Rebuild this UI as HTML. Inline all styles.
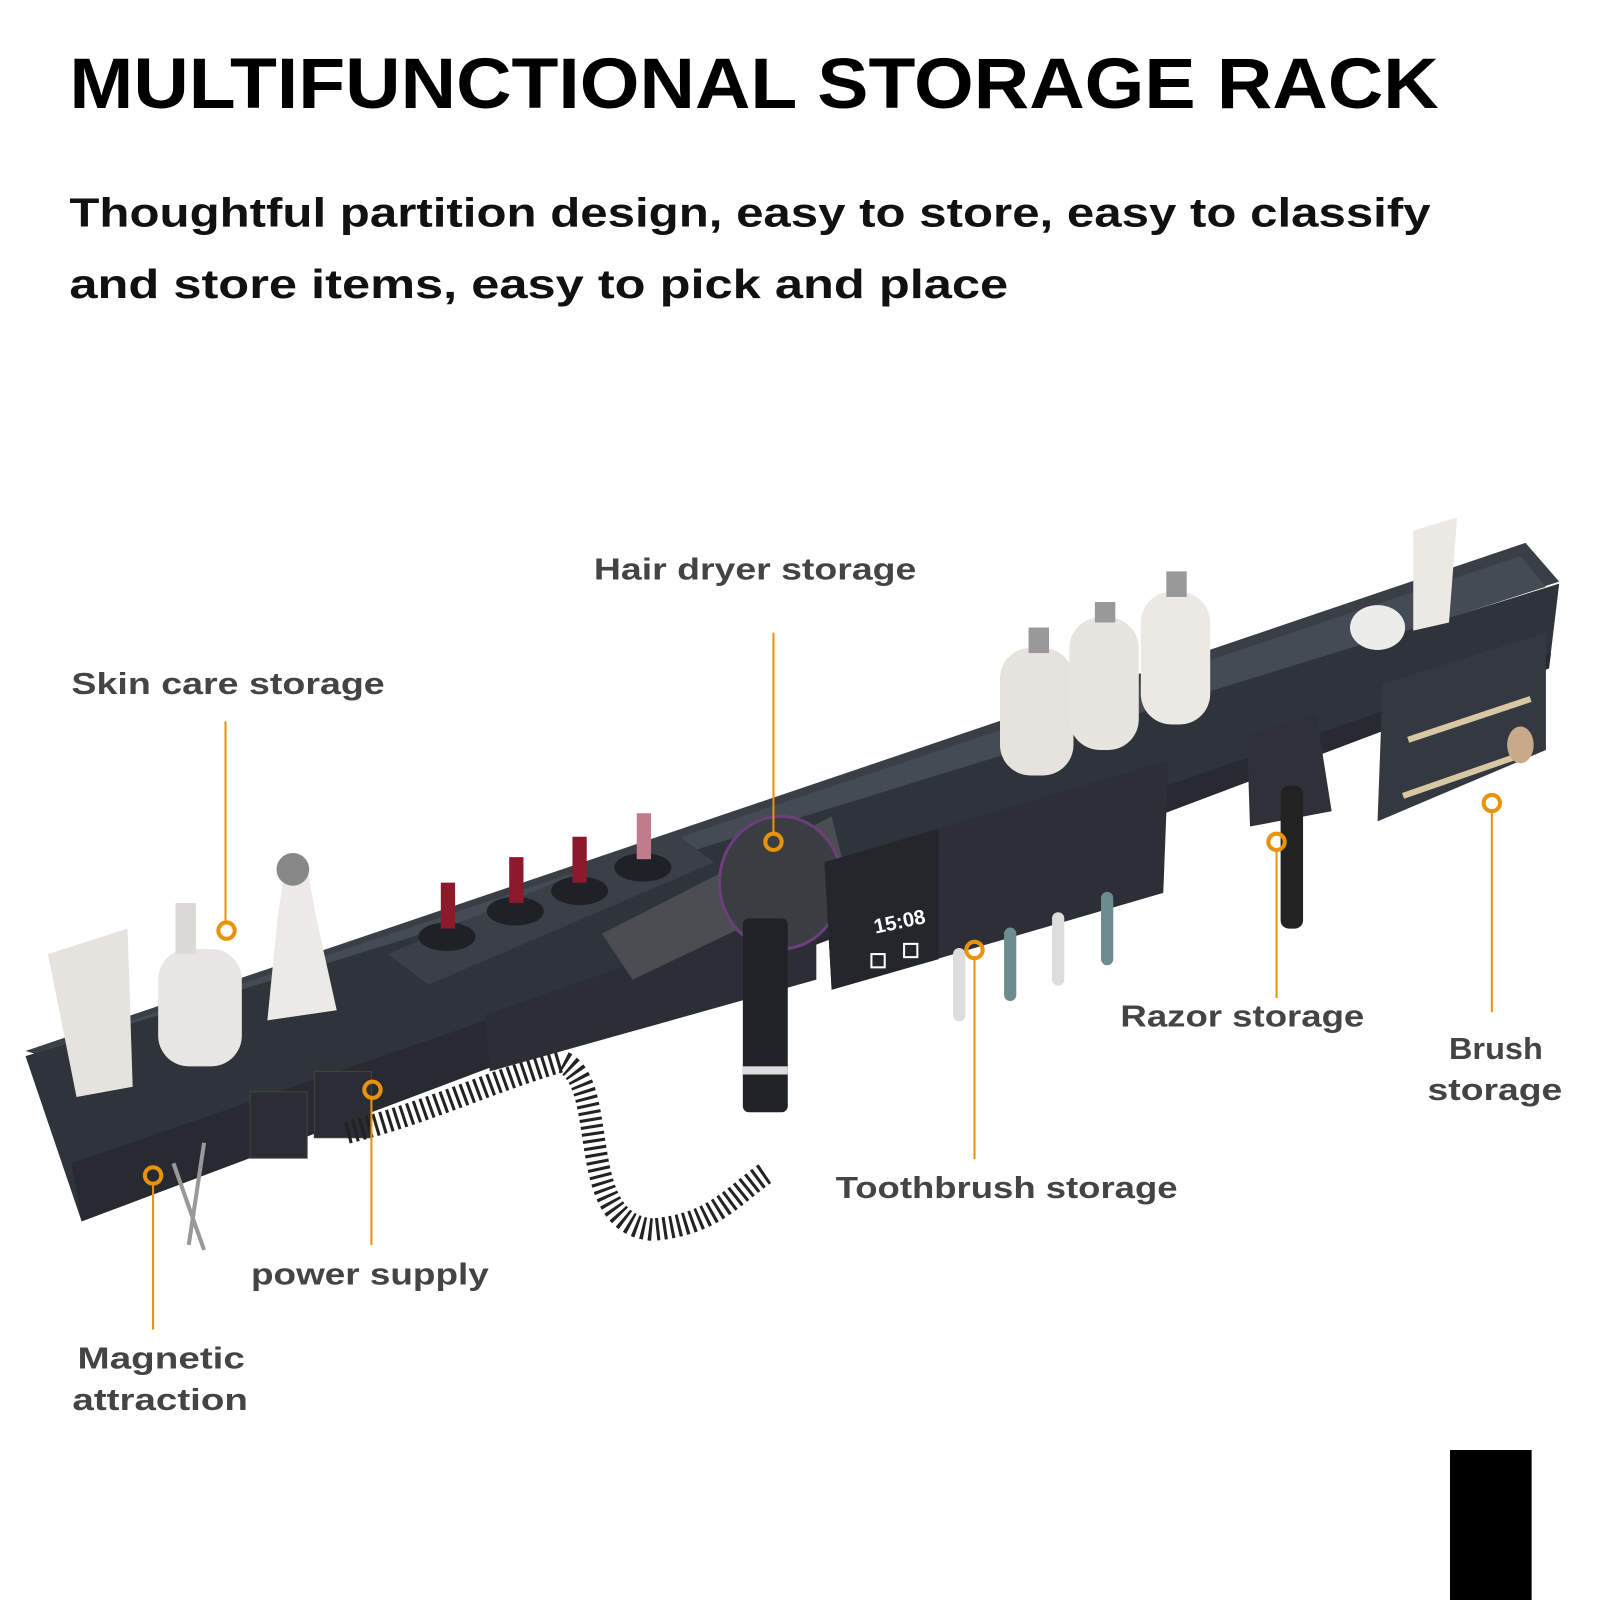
<!DOCTYPE html>
<html><head><meta charset="utf-8"><style>
html,body{margin:0;padding:0;background:#fff;}
svg{display:block;}
text{font-family:"Liberation Sans",sans-serif;font-weight:bold;}
</style></head><body>
<svg width="1600" height="1600" viewBox="0 0 1568 1568" xmlns="http://www.w3.org/2000/svg">
<rect width="1568" height="1568" fill="#fff"/>
<text x="68" y="106" font-size="70" fill="#000" textLength="1342" lengthAdjust="spacingAndGlyphs">MULTIFUNCTIONAL STORAGE RACK</text>
<text x="68" y="222" font-size="40" fill="#111" textLength="1334" lengthAdjust="spacingAndGlyphs">Thoughtful partition design, easy to store, easy to classify</text>
<text x="68" y="292" font-size="40" fill="#111" textLength="920" lengthAdjust="spacingAndGlyphs">and store items, easy to pick and place</text>

<!-- rack back wall -->
<polygon points="25,1030 1495,532 1528,570 60,1040" fill="#3a3f47"/>
<polygon points="40,1030 1490,545 1515,575 70,1040" fill="#454b54"/>
<!-- front face -->
<polygon points="25,1035 1528,572 1518,655 80,1197" fill="#2f343b"/>
<polygon points="70,1140 1520,640 1518,655 80,1197" fill="#272b31"/>
<!-- lipstick tray -->
<polygon points="380,935 660,815 700,845 420,965" fill="#3b4048"/>
<g fill="#1e2126">
<ellipse cx="438" cy="918" rx="28" ry="14"/><ellipse cx="505" cy="893" rx="28" ry="14"/>
<ellipse cx="568" cy="873" rx="28" ry="14"/><ellipse cx="630" cy="850" rx="28" ry="14"/></g>
<g fill="#8b1a2a"><rect x="432" y="865" width="14" height="45"/><rect x="499" y="840" width="14" height="45"/><rect x="561" y="820" width="14" height="45"/><rect x="624" y="797" width="14" height="45" fill="#c07b8c"/></g>
<!-- skin care items -->
<polygon points="47,935 125,910 130,1065 75,1075" fill="#e6e3df"/>
<rect x="155" y="930" width="82" height="115" rx="30" fill="#e8e6e2"/>
<rect x="172" y="885" width="20" height="50" fill="#dcdad6"/>
<path d="M262,1000 L330,990 L310,900 L300,845 L280,845 L272,900 Z" fill="#eceae6"/>
<circle cx="287" cy="852" r="16" fill="#888"/>
<!-- power sockets -->
<rect x="245" y="1070" width="56" height="65" fill="#2a2e34" stroke="#444"/>
<rect x="308" y="1050" width="56" height="65" fill="#2a2e34" stroke="#444"/>
<!-- coiled cord -->
<path d="M340,1110 C420,1090 480,1060 550,1040 C600,1060 560,1200 640,1205 C700,1200 720,1170 750,1150" stroke="#222" stroke-width="22" fill="none" stroke-dasharray="3 4"/>
<!-- hair dryer -->
<polygon points="475,995 800,880 800,960 480,1050" fill="#2b2f35"/>
<polygon points="590,915 815,800 830,860 620,960" fill="#4a4d52"/>
<ellipse cx="765" cy="865" rx="60" ry="65" fill="#3a3d42" stroke="#6b3f7a" stroke-width="3"/>
<rect x="728" y="900" width="44" height="190" rx="6" fill="#1f2226"/>
<rect x="728" y="1045" width="44" height="8" fill="#ddd"/>
<!-- clock unit -->
<polygon points="808,845 1145,745 1140,875 815,970" fill="#2c3036"/>
<polygon points="808,845 920,812 920,940 815,970" fill="#23272c"/>
<text x="858" y="915" font-size="20" fill="#fff" transform="rotate(-12 858 915)">15:08</text>
<rect x="854" y="935" width="13" height="13" fill="none" stroke="#fff" stroke-width="2"/>
<rect x="886" y="925" width="13" height="13" fill="none" stroke="#fff" stroke-width="2"/>
<!-- toothbrushes -->
<g stroke-width="12" stroke-linecap="round"><line x1="940" y1="935" x2="940" y2="995" stroke="#ddd"/><line x1="990" y1="915" x2="990" y2="975" stroke="#6d8c90"/><line x1="1037" y1="900" x2="1037" y2="960" stroke="#ddd"/><line x1="1085" y1="880" x2="1085" y2="940" stroke="#6d8c90"/></g>
<!-- bottles -->
<rect x="980" y="635" width="72" height="125" rx="30" fill="#e6e2de"/><rect x="1008" y="615" width="20" height="25" fill="#999"/>
<rect x="1048" y="605" width="68" height="130" rx="30" fill="#e8e4e0"/><rect x="1073" y="590" width="20" height="20" fill="#999"/>
<rect x="1118" y="580" width="68" height="130" rx="30" fill="#ece9e5"/><rect x="1143" y="560" width="20" height="25" fill="#999"/>
<ellipse cx="1350" cy="615" rx="27" ry="22" fill="#ececea"/>
<polygon points="1385,520 1428,507 1420,610 1385,618" fill="#ece9e5"/>
<!-- razor holder -->
<polygon points="1222,720 1290,700 1305,795 1225,810" fill="#2e3238"/>
<rect x="1255" y="770" width="22" height="140" rx="8" fill="#222"/>
<!-- brush shelf -->
<polygon points="1355,670 1515,620 1515,735 1350,805" fill="#343941"/>
<line x1="1380" y1="725" x2="1500" y2="685" stroke="#d8c7a3" stroke-width="6"/>
<line x1="1375" y1="780" x2="1490" y2="740" stroke="#d8c7a3" stroke-width="6"/>
<ellipse cx="1490" cy="730" rx="13" ry="18" fill="#c8a989"/>
<!-- scissors -->
<path d="M170,1140 L200,1225 M200,1120 L185,1220" stroke="#999" stroke-width="4" fill="none"/>

<!-- callouts -->
<g stroke="#e8930b" stroke-width="2" fill="none">
<line x1="221" y1="707" x2="221" y2="905"/><circle cx="222" cy="912" r="8" stroke-width="4"/>
<line x1="758" y1="620" x2="758" y2="818"/><circle cx="758" cy="825" r="8" stroke-width="4"/>
<line x1="364" y1="1076" x2="364" y2="1220"/><circle cx="365" cy="1068" r="8" stroke-width="4"/>
<line x1="150" y1="1160" x2="150" y2="1303"/><circle cx="150" cy="1152" r="8" stroke-width="4"/>
<line x1="955" y1="939" x2="955" y2="1136"/><circle cx="955" cy="931" r="8" stroke-width="4"/>
<line x1="1251" y1="833" x2="1251" y2="978"/><circle cx="1251" cy="825" r="8" stroke-width="4"/>
<line x1="1462" y1="795" x2="1462" y2="992"/><circle cx="1462" cy="787" r="8" stroke-width="4"/>
</g>
<g fill="#444" font-size="30">
<text x="582" y="568" textLength="316" lengthAdjust="spacingAndGlyphs">Hair dryer storage</text>
<text x="70" y="680" textLength="307" lengthAdjust="spacingAndGlyphs">Skin care storage</text>
<text x="1098" y="1006" textLength="239" lengthAdjust="spacingAndGlyphs">Razor storage</text>
<text x="1420" y="1038" textLength="92" lengthAdjust="spacingAndGlyphs">Brush</text>
<text x="1399" y="1078" textLength="132" lengthAdjust="spacingAndGlyphs">storage</text>
<text x="819" y="1174" textLength="335" lengthAdjust="spacingAndGlyphs">Toothbrush storage</text>
<text x="246" y="1259" textLength="233" lengthAdjust="spacingAndGlyphs">power supply</text>
<text x="76" y="1341" textLength="164" lengthAdjust="spacingAndGlyphs">Magnetic</text>
<text x="71" y="1382" textLength="172" lengthAdjust="spacingAndGlyphs">attraction</text>
</g>
<rect x="1421" y="1421" width="80" height="147" fill="#000"/>
</svg>
</body></html>
